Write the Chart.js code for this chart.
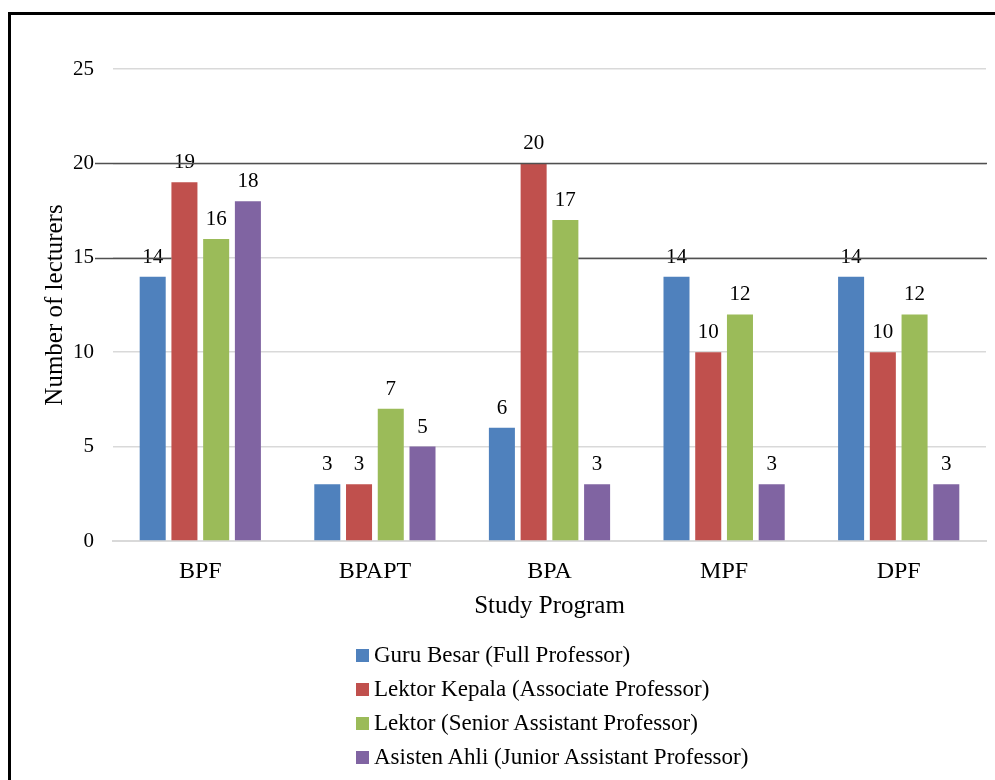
<!DOCTYPE html>
<html>
<head>
<meta charset="utf-8">
<script src="https://cdn.jsdelivr.net/npm/chart.js@4.4.1/dist/chart.umd.min.js"></script>
<style>
  html, body { margin: 0; padding: 0; background: #ffffff; }
  #wrap { position: relative; width: 995px; height: 780px; overflow: hidden; }
  #frame { position: absolute; left: 8px; top: 12px; width: 1000px; height: 800px;
           border-left: 3px solid #000; border-top: 3px solid #000; }
  #chart { position: absolute; left: 0; top: 0; }
  #legend { position: absolute; left: 356px; top: 638px;
            font-family: "Liberation Serif", "Times New Roman", serif; font-size: 23px; color: #000; }
  #legend .row { height: 34px; display: flex; align-items: center; white-space: nowrap; }
  #legend .box { width: 13px; height: 13px; margin-right: 5px; flex: none; }
</style>
</head>
<body>
<div id="wrap">
  <div id="frame"></div>
  <canvas id="chart" width="995" height="780"></canvas>
  <div id="legend"></div>
</div>
<script>
// Study programs on the x axis
const categories = ['BPF', 'BPAPT', 'BPA', 'MPF', 'DPF'];

// Number of lecturers per academic rank
const guruBesar    = [14, 3, 6, 14, 14];
const lektorKepala = [19, 3, 20, 10, 10];
const lektor       = [16, 7, 17, 12, 12];
const asistenAhli  = [18, 5, 3, 3, 3];

const seriesNames = [
  'Guru Besar (Full Professor)',
  'Lektor Kepala (Associate Professor)',
  'Lektor (Senior Assistant Professor)',
  'Asisten Ahli (Junior Assistant Professor)'
];
const seriesColors = ['#4F81BD', '#C0504D', '#9BBB59', '#8064A2'];

// Value axis
const yMin = 0, yMax = 25, yStep = 5;

const serif = '"Liberation Serif", "Times New Roman", serif';

// Value labels above each bar
const valueLabels = {
  id: 'valueLabels',
  afterDatasetsDraw(chart) {
    const ctx = chart.ctx;
    ctx.save();
    ctx.font = '21px ' + serif;
    ctx.fillStyle = '#000';
    ctx.textAlign = 'center';
    ctx.textBaseline = 'alphabetic';
    chart.data.datasets.forEach((ds, i) => {
      chart.getDatasetMeta(i).data.forEach((bar, j) => {
        ctx.fillText(String(ds.data[j]), bar.x, bar.y - 14);
      });
    });
    ctx.restore();
  }
};

// Dark rules running across the plot at 20 and 15
const darkRules = {
  id: 'darkRules',
  afterDraw(chart) {
    const ctx = chart.ctx;
    const y = chart.scales.y;
    const area = chart.chartArea;
    const startX = y.left + 62;
    const red = chart.getDatasetMeta(1).data[0];
    const green = chart.getDatasetMeta(2).data[2];
    ctx.save();
    ctx.strokeStyle = '#505050';
    ctx.lineWidth = 1.5;
    const y20 = Math.round(y.getPixelForValue(20)) + 0.5;
    const y15 = Math.round(y.getPixelForValue(15)) + 0.5;
    ctx.beginPath();
    ctx.moveTo(startX, y20); ctx.lineTo(area.right + 1, y20);
    ctx.moveTo(startX, y15); ctx.lineTo(red.x - red.width / 2, y15);
    ctx.moveTo(green.x + green.width / 2, y15); ctx.lineTo(area.right + 1, y15);
    ctx.stroke();
    ctx.restore();
  }
};

const datasets = [guruBesar, lektorKepala, lektor, asistenAhli].map((vals, i) => ({
  label: seriesNames[i],
  data: vals,
  backgroundColor: seriesColors[i],
  borderWidth: 0,
  categoryPercentage: 0.727,
  barPercentage: 0.82
}));

new Chart(document.getElementById('chart'), {
  type: 'bar',
  data: { labels: categories, datasets },
  options: {
    responsive: false,
    animation: false,
    devicePixelRatio: 1,
    layout: { padding: { left: 33, right: 9, top: 69, bottom: 159 } },
    plugins: {
      legend: { display: false },
      tooltip: { enabled: false }
    },
    scales: {
      x: {
        grid: { display: false, drawTicks: false },
        border: { display: true, color: '#d9d9d9', width: 2 },
        ticks: { color: '#000', font: { family: serif, size: 24 }, padding: 16 },
        title: { display: true, text: 'Study Program', color: '#000',
                 font: { family: serif, size: 25 }, padding: { top: 4, bottom: 0 } },
        afterFit(scale) { scale.height = 80; }
      },
      y: {
        min: yMin, max: yMax,
        grid: { color: '#d9d9d9', lineWidth: 1.5, drawTicks: false },
        border: { display: false },
        ticks: { stepSize: yStep, color: '#000', font: { family: serif, size: 21 }, padding: 19 },
        title: { display: true, text: 'Number of lecturers', color: '#000',
                 font: { family: serif, size: 25 }, padding: { top: 7, bottom: 4 } },
        afterFit(scale) { scale.width = 80; }
      }
    }
  },
  plugins: [valueLabels, darkRules]
});

// Legend listing the four ranks, one per row
const legend = document.getElementById('legend');
seriesNames.forEach((name, i) => {
  const row = document.createElement('div');
  row.className = 'row';
  const box = document.createElement('span');
  box.className = 'box';
  box.style.background = seriesColors[i];
  const txt = document.createElement('span');
  txt.textContent = name;
  row.appendChild(box);
  row.appendChild(txt);
  legend.appendChild(row);
});
</script>
</body>
</html>
